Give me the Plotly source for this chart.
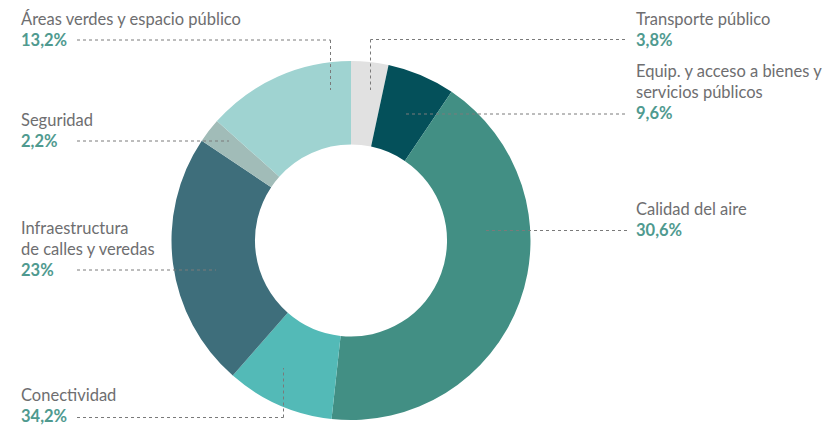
import plotly.graph_objects as go

W, H = 823, 425

# slice shares as drawn (clockwise from 12 o'clock)
categories = ["Transporte público", "Equip. y acceso a bienes y servicios públicos",
              "Calidad del aire", "Conectividad", "Infraestructura de calles y veredas",
              "Seguridad", "Áreas verdes y espacio público"]
slice_values = [3.35, 6.1, 42.2, 9.7, 22.9, 2.2, 13.4]
colors = ["#e1e1e1", "#04505a", "#428f84", "#53bab7", "#3e6e7b", "#a1bcb8", "#9fd3d1"]

# label texts as printed
label_names = ["Transporte público", "Equip. y acceso a bienes y<br>servicios públicos",
               "Calidad del aire", "Conectividad", "Infraestructura<br>de calles y veredas",
               "Seguridad", "Áreas verdes y espacio público"]
label_pcts = ["3,8%", "9,6%", "30,6%", "34,2%", "23%", "2,2%", "13,2%"]

# chart geometry (pixels)
cx, cy, R = 351, 240.5, 179.5
hole = 0.535

def px(x):
    return x / W

def py(y):
    return 1 - y / H

fig = go.Figure(go.Pie(
    labels=categories, values=slice_values, sort=False, direction="clockwise",
    rotation=0, hole=hole, marker=dict(colors=colors, line=dict(width=0)),
    textinfo="none", hoverinfo="label+value", showlegend=False,
    domain=dict(x=[px(cx - R), px(cx + R)], y=[py(cy + R), py(cy - R)]),
))

LINE = dict(color="#7a7a7a", width=1, dash="dot")
# leader line paths (pixel polylines), one per label
leaders = [
    [(625, 39.5), (370.5, 39.5), (370.5, 90)],   # Transporte
    [(625, 114), (405, 114)],                     # Equip
    [(627, 230.5), (486, 230.5)],                 # Calidad
    [(77, 417.5), (283.5, 417.5), (283.5, 368)],  # Conectividad
    [(77, 270), (216, 270)],                      # Infraestructura
    [(77, 141), (229, 141)],                      # Seguridad
    [(77, 40), (330.5, 40), (330.5, 90)],         # Áreas verdes
]
for pts in leaders:
    for (x0, y0), (x1, y1) in zip(pts[:-1], pts[1:]):
        fig.add_shape(type="line", xref="paper", yref="paper",
                      x0=px(x0), y0=py(y0), x1=px(x1), y1=py(y1), line=LINE)

# text anchors: (x_left, y centre of percentage line)
anchors = [(635, 40), (635, 113), (635, 230), (20, 416), (20, 270), (20, 141), (20, 40)]
FONT = "Lato"
FS = 16.5
LH = 21
NAME_C = "#6e6e70"
PCT_C = "#4f9a8f"
for name, pct, (ax, ay) in zip(label_names, label_pcts, anchors):
    nlines = name.count("<br>") + 1
    yc = ay - LH - (nlines - 1) * LH / 2
    fig.add_annotation(x=px(ax - 1), y=py(yc), xref="paper", yref="paper",
                       xanchor="left", yanchor="middle",
                       text=name, showarrow=False, align="left",
                       font=dict(family=FONT, size=FS, color=NAME_C))
    fig.add_annotation(x=px(ax - 1), y=py(ay), xref="paper", yref="paper",
                       xanchor="left", yanchor="middle", text="<b>" + pct + "</b>",
                       showarrow=False, align="left",
                       font=dict(family=FONT, size=FS, color=PCT_C))

fig.update_layout(width=W, height=H, margin=dict(l=0, r=0, t=0, b=0),
                  paper_bgcolor="white", plot_bgcolor="white")
fig.write_html("out.html", config={"displayModeBar": False},
               post_script="document.body.style.margin='0';")
